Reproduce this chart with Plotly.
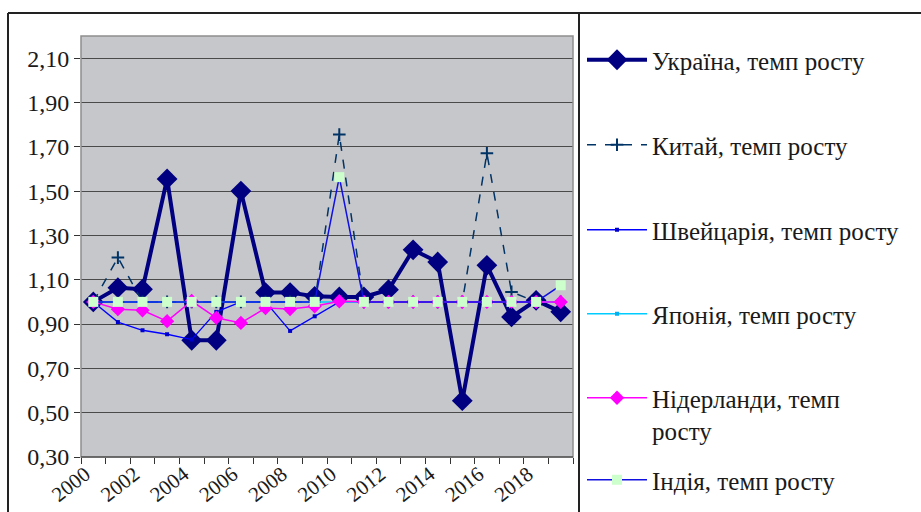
import plotly.graph_objects as go

years = list(range(2000, 2020))
tick_years = list(range(2000, 2020, 2))
tick_labels = [str(y) for y in tick_years]

ukraine = [1.00, 1.064, 1.057, 1.555, 0.827, 0.827, 1.50, 1.042, 1.042, 1.025,
           1.022, 1.022, 1.055, 1.235, 1.18, 0.554, 1.165, 0.932, 1.007, 0.955]
china = [1.00, 1.20, 1.00, 1.00, 1.00, 1.00, 1.00, 1.00, 1.00, 1.00,
         1.755, 1.00, 1.00, 1.00, 1.00, 1.00, 1.671, 1.045, 1.00, 1.00]
switzerland = [1.00, 0.909, 0.872, 0.854, 0.83, 0.955, 1.00, 1.00, 0.869, 0.935,
               1.00, 1.00, 1.00, 1.00, 1.00, 1.00, 1.00, 1.00, 1.00, 1.00]
japan = [1.00] * 20
netherlands = [1.00, 0.967, 0.962, 0.913, 1.004, 0.928, 0.905, 0.972, 0.968, 0.98,
               1.003, 1.00, 1.00, 1.00, 1.00, 1.00, 1.00, 1.00, 1.00, 1.00]
india = [1.00, 1.00, 1.00, 1.00, 1.00, 1.00, 1.00, 1.00, 1.00, 1.00,
         1.563, 1.00, 1.00, 1.00, 1.00, 1.00, 1.00, 1.00, 1.00, 1.075]

names = ["Україна, темп росту", "Китай, темп росту", "Швейцарія, темп росту",
         "Японія, темп росту", "Нідерланди, темп<br>росту", "Індія, темп росту"]

FONT = "Liberation Serif, DejaVu Serif"

fig = go.Figure()
fig.add_trace(go.Scatter(x=years, y=ukraine, name=names[0], mode="lines+markers",
                         line=dict(color="#000080", width=4),
                         marker=dict(symbol="diamond", size=16, color="#000080"),
                         legend="legend"))
fig.add_trace(go.Scatter(x=years, y=china, name=names[1], mode="lines+markers",
                         line=dict(color="#003366", width=1.5, dash="dash"),
                         marker=dict(symbol="cross-thin-open", size=9,
                                     line=dict(color="#008080", width=2)),
                         legend="legend2"))
fig.add_trace(go.Scatter(x=years, y=switzerland, name=names[2], mode="lines+markers",
                         line=dict(color="#0000FF", width=1.3),
                         marker=dict(symbol="square", size=4, color="#0000CC"),
                         legend="legend3"))
fig.add_trace(go.Scatter(x=years, y=japan, name=names[3], mode="lines+markers",
                         line=dict(color="#00CCFF", width=1.5),
                         marker=dict(symbol="square", size=4, color="#00B0F0"),
                         legend="legend4"))
fig.add_trace(go.Scatter(x=years, y=netherlands, name=names[4], mode="lines+markers",
                         line=dict(color="#FF00FF", width=1.5),
                         marker=dict(symbol="diamond", size=11, color="#FF00FF"),
                         legend="legend5"))
fig.add_trace(go.Scatter(x=years, y=india, name=names[5], mode="lines+markers",
                         line=dict(color="#1010E0", width=1.5),
                         marker=dict(symbol="square", size=10, color="#CCFFCC"),
                         legend="legend6"))

L, R, T, B = 81, 573, 36, 457
W, H = 921, 512
pw, ph = R - L, B - T


def px(x):
    return (x - L) / pw


def py(y):
    return (B - y) / ph


leg_font = dict(family=FONT, size=25, color="#1a1a1a")
leg_common = dict(xanchor="left", bgcolor="rgba(0,0,0,0)", font=leg_font,
                  itemwidth=60, borderwidth=0, xref="container", yref="container")
centers = [60, 145, 230, 314, 395, 480]
layout_legends = {}
for i, c in enumerate(centers):
    key = "legend" if i == 0 else f"legend{i+1}"
    d = dict(leg_common)
    if i == 4:
        d.update(x=582 / W, y=1 - (c - 20) / H, yanchor="top", valign="top")
    else:
        d.update(x=582 / W, y=1 - c / H, yanchor="middle")
    layout_legends[key] = d

fig.update_layout(
    width=W, height=H,
    margin=dict(l=L, r=W - R, t=T, b=H - B, autoexpand=False),
    paper_bgcolor="white",
    plot_bgcolor="#C6C7CA",
    separators=", ",
    showlegend=True,
    font=dict(family=FONT, size=24, color="#1a1a1a"),
    **layout_legends,
)

fig.update_xaxes(
    range=[1999.5, 2019.5], automargin=False,
    tickvals=tick_years, ticktext=tick_labels,
    tickangle=-38, ticks="", showgrid=False, zeroline=False,
    tickfont=dict(family=FONT, size=21, color="#1a1a1a"),
    ticklabelshift=-8, ticklabelstandoff=0,
    showline=False,
    minor=dict(tick0=1999.5, dtick=1, ticks="outside", ticklen=6,
               tickcolor="#333", tickwidth=1, showgrid=False),
)
fig.update_yaxes(
    range=[0.3, 2.2], tick0=0.3, dtick=0.2, tickformat=".2f", automargin=False,
    ticks="outside", ticklen=6, tickcolor="#333",
    showgrid=True, gridcolor="#4a4a4a", gridwidth=1, zeroline=False,
    tickfont=dict(family=FONT, size=24, color="#1a1a1a"),
    showline=False,
)

# plot area border
fig.add_shape(type="rect", xref="paper", yref="paper", x0=0, y0=0, x1=1, y1=1,
              line=dict(color="#8f8f8f", width=1.5), layer="above")
fig.add_shape(type="line", xref="paper", yref="paper", x0=0, y0=0, x1=1, y1=0,
              line=dict(color="#333", width=1.2), layer="above")
# chart area and legend borders
fig.add_shape(type="line", xref="paper", yref="paper", x0=px(8), y0=py(13),
              x1=px(925), y1=py(13), line=dict(color="#222", width=2))
fig.add_shape(type="line", xref="paper", yref="paper", x0=px(8), y0=py(13),
              x1=px(8), y1=py(520), line=dict(color="#222", width=2))
fig.add_shape(type="line", xref="paper", yref="paper", x0=px(579), y0=py(13),
              x1=px(579), y1=py(520), line=dict(color="#222", width=2))

fig.write_html("out.html", config={"displayModeBar": False},
               post_script="document.body.style.margin='0px';"
                           "document.body.style.overflow='hidden';")
